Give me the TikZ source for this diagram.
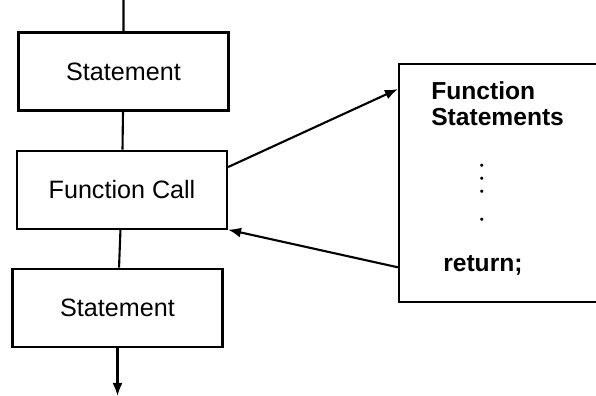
\documentclass[tikz,border=0pt]{standalone}
\usepackage{fontspec}
\setmainfont{Liberation Sans}
\usetikzlibrary{positioning, arrows.meta}

\tikzset{
	block/.style = {draw, line width=1.2pt, minimum width=4.2cm, minimum height=1.56cm, inner sep=0pt, font=\fontsize{14.3}{16}\selectfont},
	flow/.style = {line width=1.2pt},
	boxtext/.style = {inner sep=0pt, font=\fontsize{14}{14.8}\selectfont\bfseries, align=left}
}

\begin{document}
\begin{tikzpicture}[node distance = 0.76cm, >={Latex[length=2.6mm, width=2mm]}]
			\useasboundingbox (0,0) rectangle (11.92,-7.92);
			\clip (0,0) rectangle (11.92,-7.92);

			\node[block] (st1) at (2.47,-1.43) {Statement};
			\node[block, below=of st1, xshift=-0.03cm] (call) {Function Call};
			\node[block, below=of call, xshift=-0.09cm] (st2) {Statement};
			\node[block, minimum width=4.6cm, minimum height=4.76cm] (func) at (10.28,-3.66) {};

			\node[boxtext, below right=0.36cm and 0.66cm of func.north west] (ftitle) {Function\\Statements};
			\node[inner sep=0pt, align=center, font=\fontsize{6.5}{7.4}\selectfont] (dots) at ([shift={(1.68,-2.62)}]func.north west) {•\\•\\•\\[0.3cm]•};
			\node[boxtext, anchor=base west] (ret) at ([shift={(0.9,-4.18)}]func.north west) {return;};

			\coordinate (in) at (st1.north |- 0,0);
			\coordinate (out) at (st2.south |- 0,-7.92);

			\draw[flow] (in) -- (st1)
			(st1) -- (call)
			(call) -- (st2);
			\draw[flow, ->] (st2) -- (out);
			\draw[flow, ->] (call.12) -- (func.141);
			\draw[flow, ->] (func.216) -- (call.south east);

		\end{tikzpicture}
\end{document}
